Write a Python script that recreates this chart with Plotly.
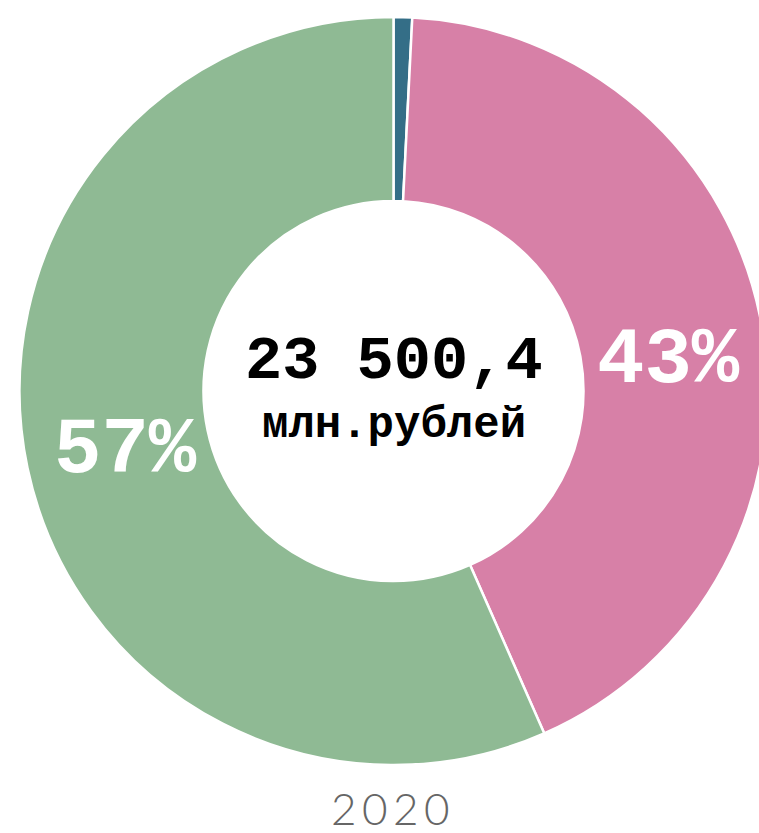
import plotly.graph_objects as go

# Structure of the 2020 total, mln rubles (clockwise from 12 o'clock)
categories = ["Статья 1", "Статья 2", "Статья 3"]
values = [188.0, 10011.2, 13301.2]
colors = ["#346E87", "#D780A7", "#8FBA94"]
year_label = "2020"
unit_label = "млн.рублей"

total = sum(values)
total_text = f"{total:,.1f}".replace(",", " ").replace(".", ",")
shares = [f"{round(v / total * 100)}%" for v in values]

W, H = 787, 833

fig = go.Figure(
    go.Pie(
        labels=categories,
        values=values,
        sort=False,
        direction="clockwise",
        rotation=0,
        hole=0.508,
        marker=dict(colors=colors, line=dict(color="white", width=2.5)),
        textinfo="none",
        domain=dict(x=[0, 1], y=[0.0816, 0.9796]),
        showlegend=False,
        hoverinfo="label+value+percent",
    )
)

# percentage labels for the two large sectors
pct_font = dict(family="Liberation Mono", size=79, color="white", weight="bold")
label_pos = {1: (668, 361), 2: (125, 451)}
for i, (px, py) in label_pos.items():
    fig.add_annotation(
        x=px / W, y=(H - py) / H, xref="paper", yref="paper",
        text=shares[i], showarrow=False, xanchor="center", yanchor="middle",
        font=pct_font,
    )

fig.add_annotation(
    x=0.5, y=(H - 361) / H, xref="paper", yref="paper",
    text=total_text, showarrow=False, xanchor="center", yanchor="middle",
    font=dict(family="Liberation Mono", size=62, color="black", weight="bold"),
)
fig.add_annotation(
    x=0.5, y=(H - 425) / H, xref="paper", yref="paper",
    text=unit_label, showarrow=False, xanchor="center", yanchor="middle",
    font=dict(family="Liberation Mono", size=44, color="black", weight="bold"),
)
fig.add_annotation(
    x=390 / W, y=(H - 808) / H, xref="paper", yref="paper",
    text="\u2009".join(year_label), showarrow=False, xanchor="center", yanchor="middle",
    font=dict(family="Lato", size=44, color="#666666", weight=300),
)

fig.update_layout(
    width=W, height=H, autosize=False,
    margin=dict(l=0, r=0, t=0, b=0),
    paper_bgcolor="white", plot_bgcolor="white",
)

fig.write_html(
    "out.html",
    post_script="document.documentElement.style.overflow='hidden';document.body.style.overflow='hidden';document.body.style.margin='0';",
)
